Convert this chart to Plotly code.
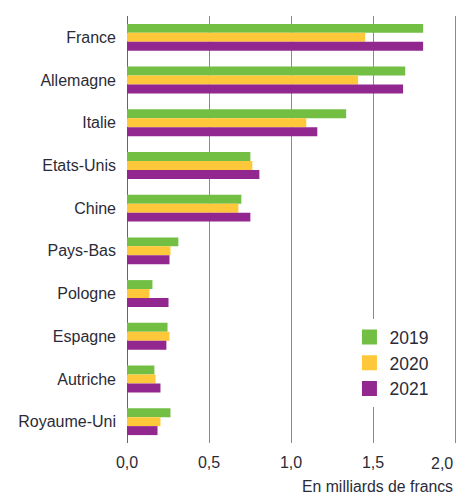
import plotly.graph_objects as go

categories = ["France", "Allemagne", "Italie", "Etats-Unis", "Chine",
              "Pays-Bas", "Pologne", "Espagne", "Autriche", "Royaume-Uni"]
v2019 = [1.805, 1.696, 1.336, 0.752, 0.697, 0.313, 0.155, 0.247, 0.167, 0.265]
v2020 = [1.452, 1.409, 1.093, 0.764, 0.679, 0.265, 0.137, 0.259, 0.174, 0.204]
v2021 = [1.805, 1.683, 1.160, 0.807, 0.752, 0.259, 0.253, 0.240, 0.204, 0.186]
years = ["2019", "2020", "2021"]
tick_vals = [0, 0.5, 1.0, 1.5, 2.0]
tick_labels = ["0,0", "0,5", "1,0", "1,5", "2,0"]
axis_title = "En milliards de francs"

colors = ["#72BF44", "#FFC83A", "#92278F"]
FONT = "Liberation Sans, Arial, sans-serif"
TXT = "#2b2b38"

fig = go.Figure()
for name, vals, col in zip(years, [v2019, v2020, v2021], colors):
    fig.add_trace(go.Bar(y=categories, x=vals, orientation="h", name=name,
                         marker=dict(color=col, line=dict(width=0)),
                         showlegend=False, legendgroup=name))
    fig.add_trace(go.Scatter(x=[None], y=[None], mode="markers", name=name,
                             marker=dict(symbol="square", size=15, color=col),
                             legendgroup=name, showlegend=True))

# last tick label is right-aligned on its gridline (as in the original)
shown_ticks = tick_labels[:-1] + [""]

fig.update_layout(
    width=470, height=495,
    margin=dict(l=127, r=10, t=16, b=52),
    paper_bgcolor="white", plot_bgcolor="white",
    barmode="group", bargap=0.37, bargroupgap=0,
    font=dict(family=FONT, color=TXT),
    legend=dict(x=0.668, y=0.29, xanchor="left", yanchor="top",
                bgcolor="white", font=dict(size=17.5, family=FONT, color=TXT),
                tracegroupgap=0, traceorder="normal"),
    xaxis=dict(range=[0, 2.03], tickvals=tick_vals, ticktext=shown_ticks,
               showgrid=True, gridcolor="#8a8a8a", gridwidth=1.3,
               zeroline=True, zerolinecolor="#666666", zerolinewidth=1.2,
               showline=False, ticks="", ticklabelstandoff=8, automargin=False,
               tickfont=dict(size=16, family=FONT, color=TXT)),
    yaxis=dict(autorange="reversed", showgrid=False, zeroline=False,
               ticks="", ticklabelstandoff=10, automargin=False,
               tickfont=dict(size=16, family=FONT, color=TXT)),
    annotations=[
        dict(text=tick_labels[-1], xref="x", yref="paper", x=tick_vals[-1],
             y=-0.048, xanchor="right", yanchor="middle", showarrow=False,
             font=dict(size=16, family=FONT, color=TXT)),
        dict(text=axis_title, xref="x", yref="paper", x=tick_vals[-1], y=-0.103,
             xanchor="right", yanchor="middle", showarrow=False,
             font=dict(size=15.8, family=FONT, color=TXT)),
    ],
)

fig.write_html(
    "out.html",
    config={"displayModeBar": False},
    post_script="document.body.style.margin='0';document.body.style.overflow='hidden';",
)
